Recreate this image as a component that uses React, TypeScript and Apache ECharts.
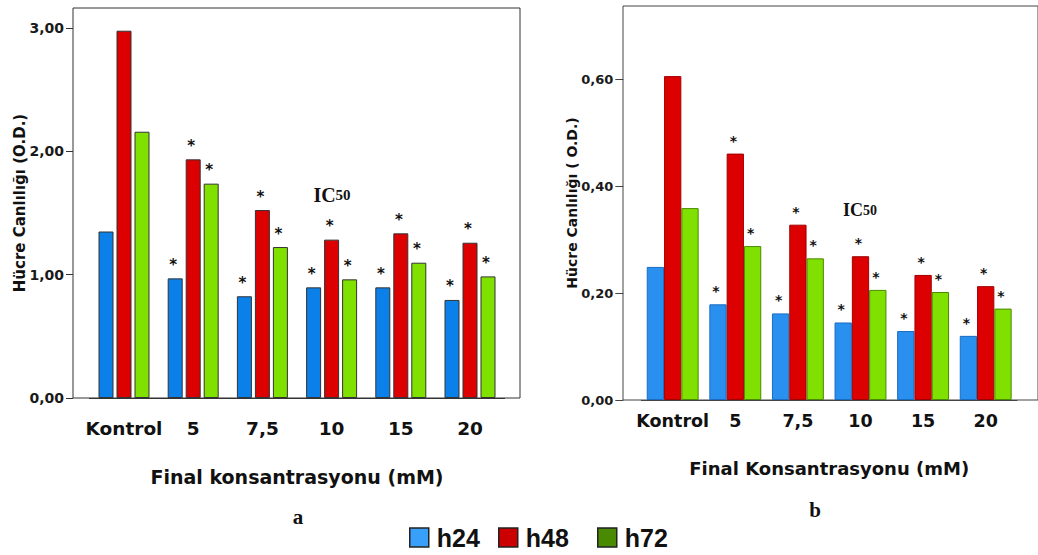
import React, { useEffect, useRef } from "react";
import * as echarts from "echarts";

// ---------- data ----------
const categories = ["Kontrol", "5", "7,5", "10", "15", "20"];
const seriesNames = ["h24", "h48", "h72"];
const significant = [false, true, true, true, true, true];

// panel a
const aH24 = [1.35, 0.97, 0.825, 0.897, 0.897, 0.795];
const aH48 = [2.978, 1.935, 1.524, 1.284, 1.335, 1.259];
const aH72 = [2.159, 1.738, 1.224, 0.962, 1.097, 0.986];
// panel b
const bH24 = [0.249, 0.179, 0.162, 0.145, 0.129, 0.12];
const bH48 = [0.606, 0.461, 0.328, 0.269, 0.234, 0.213];
const bH72 = [0.359, 0.288, 0.265, 0.206, 0.202, 0.171];

const aYMax = 3;
const aYInterval = 1;
const bYMax = 0.6;
const bYInterval = 0.2;

const xTitleA = "Final konsantrasyonu (mM)";
const xTitleB = "Final Konsantrasyonu (mM)";
const yTitleA = "Hücre Canlılığı (O.D.)";
const yTitleB = "Hücre Canlılığı ( O.D.)";

// ---------- styles ----------
const SANS = "DejaVu Sans";
const colorsA = ["#0a80e8", "#dd0000", "#80e000"];
const colorsB = ["#2a90f0", "#dd0000", "#80e000"];
const bordersB = ["#1a6cc0", "#a00000", "#4a8a00"];
const legendColors = ["#38a0f8", "#cc0000", "#4a8a00"];

const fmt = (v: number) => v.toFixed(2).replace(".", ",");

function barSeries(
  name: string,
  values: number[],
  idx: number,
  color: string,
  borderColor: string,
  barWidth: number,
  barGap: string,
  labelSize: number
) {
  return {
    type: "bar",
    name,
    xAxisIndex: idx,
    yAxisIndex: idx,
    barWidth,
    barGap,
    clip: false,
    itemStyle: { color, borderColor, borderWidth: 1 },
    label: {
      show: false,
      position: "top",
      distance: 6,
      offset: [-2, 0],
      formatter: "*",
      fontFamily: SANS,
      fontWeight: "bold",
      fontSize: labelSize,
      color: "#111",
    },
    data: values.map((v, i) => ({ value: v, label: { show: significant[i] } })),
  };
}

export default function App() {
  const ref = useRef<HTMLDivElement>(null);
  useEffect(() => {
    if (!ref.current) return;
    const chart = echarts.init(ref.current, undefined, { renderer: "svg" });

    const legendBase = {
      orient: "horizontal",
      top: 525,
      padding: 0,
      icon: "rect",
      itemWidth: 19,
      itemHeight: 19,
      selectedMode: false,
      itemStyle: { borderColor: "#222", borderWidth: 1.5 },
      textStyle: {
        fontFamily: "Liberation Sans",
        fontWeight: "bold",
        fontSize: 25,
        color: "#111",
        padding: [0, 0, 0, 3],
      },
    };

    const option: any = {
      animation: false,
      backgroundColor: "#ffffff",
      grid: [
        { left: 89.4, top: 28, width: 415.2, height: 370 },
        { left: 641.4, top: 79.3, width: 375.6, height: 320.7 },
        {
          left: 73,
          top: 8,
          width: 447,
          height: 390,
          show: true,
          borderColor: "#333",
          borderWidth: 1,
          backgroundColor: "transparent",
        },
        {
          left: 623,
          top: 6,
          width: 440,
          height: 394,
          show: true,
          borderColor: "#444",
          borderWidth: 1,
          backgroundColor: "transparent",
        },
      ],
      xAxis: [
        {
          gridIndex: 0,
          type: "category",
          data: categories,
          axisLine: { show: true, lineStyle: { color: "#333" } },
          axisTick: { alignWithLabel: true, length: 8, lineStyle: { color: "#333" } },
          axisLabel: {
            interval: 0,
            margin: 21,
            fontFamily: SANS,
            fontWeight: "bold",
            fontSize: 18.5,
            color: "#111",
          },
          name: xTitleA,
          nameLocation: "middle",
          nameGap: 69,
          nameTextStyle: { fontFamily: SANS, fontWeight: "bold", fontSize: 19, color: "#111" },
        },
        {
          gridIndex: 1,
          type: "category",
          data: categories,
          axisLine: { show: true, lineStyle: { color: "#444" } },
          axisTick: { alignWithLabel: true, length: 8, lineStyle: { color: "#444" } },
          axisLabel: {
            interval: 0,
            margin: 12,
            fontFamily: SANS,
            fontWeight: "bold",
            fontSize: 17.5,
            color: "#111",
          },
          name: xTitleB,
          nameLocation: "middle",
          nameGap: 59,
          nameTextStyle: { fontFamily: SANS, fontWeight: "bold", fontSize: 18, color: "#111" },
        },
        { gridIndex: 2, type: "value", show: false },
        { gridIndex: 3, type: "value", show: false },
      ],
      yAxis: [
        {
          gridIndex: 0,
          type: "value",
          min: 0,
          max: aYMax,
          interval: aYInterval,
          offset: 16.4,
          axisLine: { show: false },
          axisTick: { show: true, length: 7, lineStyle: { color: "#333" } },
          splitLine: { show: false },
          axisLabel: {
            margin: 9,
            formatter: fmt,
            fontFamily: SANS,
            fontWeight: "bold",
            fontSize: 14,
            color: "#1a1a1a",
          },
        },
        {
          gridIndex: 1,
          type: "value",
          min: 0,
          max: bYMax,
          interval: bYInterval,
          offset: 18.1,
          axisLine: { show: false },
          axisTick: { show: true, length: 8, lineStyle: { color: "#444" } },
          splitLine: { show: false },
          axisLabel: {
            margin: 10,
            formatter: fmt,
            fontFamily: SANS,
            fontWeight: "bold",
            fontSize: 13,
            color: "#1a1a1a",
          },
        },
        {
          gridIndex: 2,
          type: "value",
          axisLine: { show: false },
          axisTick: { show: false },
          axisLabel: { show: false },
          splitLine: { show: false },
          name: yTitleA,
          nameLocation: "middle",
          nameGap: 46,
          nameTextStyle: { fontFamily: SANS, fontWeight: "bold", fontSize: 15, color: "#111" },
        },
        {
          gridIndex: 3,
          type: "value",
          axisLine: { show: false },
          axisTick: { show: false },
          axisLabel: { show: false },
          splitLine: { show: false },
          name: yTitleB,
          nameLocation: "middle",
          nameGap: 44,
          nameTextStyle: { fontFamily: SANS, fontWeight: "bold", fontSize: 14, color: "#111" },
        },
      ],
      legend: [0, 1, 2].map((i) => ({
        ...legendBase,
        left: [409, 498, 597][i],
        data: [{ name: seriesNames[i], itemStyle: { color: legendColors[i] } }],
      })),
      series: [
        barSeries(seriesNames[0], aH24, 0, colorsA[0], "#333", 15, "20%", 15),
        barSeries(seriesNames[1], aH48, 0, colorsA[1], "#333", 15, "20%", 15),
        barSeries(seriesNames[2], aH72, 0, colorsA[2], "#333", 15, "20%", 15),
        barSeries(seriesNames[0], bH24, 1, colorsB[0], bordersB[0], 17.3, "0%", 14),
        barSeries(seriesNames[1], bH48, 1, colorsB[1], bordersB[1], 17.3, "0%", 14),
        barSeries(seriesNames[2], bH72, 1, colorsB[2], bordersB[2], 17.3, "0%", 14),
      ],
      graphic: [
        {
          type: "text",
          x: 332,
          y: 195,
          style: {
            text: "{ic|IC}{n|50}",
            align: "center",
            verticalAlign: "middle",
            rich: {
              ic: { fontFamily: "Liberation Serif", fontWeight: "bold", fontSize: 20, fill: "#111" },
              n: { fontFamily: "Liberation Serif", fontWeight: "bold", fontSize: 15, fill: "#111" },
            },
          },
        },
        {
          type: "text",
          x: 860,
          y: 210,
          style: {
            text: "{ic|IC}{n|50}",
            align: "center",
            verticalAlign: "middle",
            rich: {
              ic: { fontFamily: "Liberation Serif", fontWeight: "bold", fontSize: 18, fill: "#111" },
              n: { fontFamily: "Liberation Serif", fontWeight: "bold", fontSize: 14, fill: "#111" },
            },
          },
        },
        {
          type: "text",
          x: 298,
          y: 517,
          style: {
            text: "a",
            align: "center",
            verticalAlign: "middle",
            fontFamily: "Liberation Serif",
            fontWeight: "bold",
            fontSize: 21,
            fill: "#111",
          },
        },
        {
          type: "text",
          x: 815,
          y: 510,
          style: {
            text: "b",
            align: "center",
            verticalAlign: "middle",
            fontFamily: "Liberation Serif",
            fontWeight: "bold",
            fontSize: 21,
            fill: "#111",
          },
        },
      ],
    };

    chart.setOption(option);
    return () => chart.dispose();
  }, []);

  return (
    <div
      ref={ref}
      style={{ position: "fixed", left: 0, top: 0, width: 1038, height: 555, background: "#fff" }}
    />
  );
}
